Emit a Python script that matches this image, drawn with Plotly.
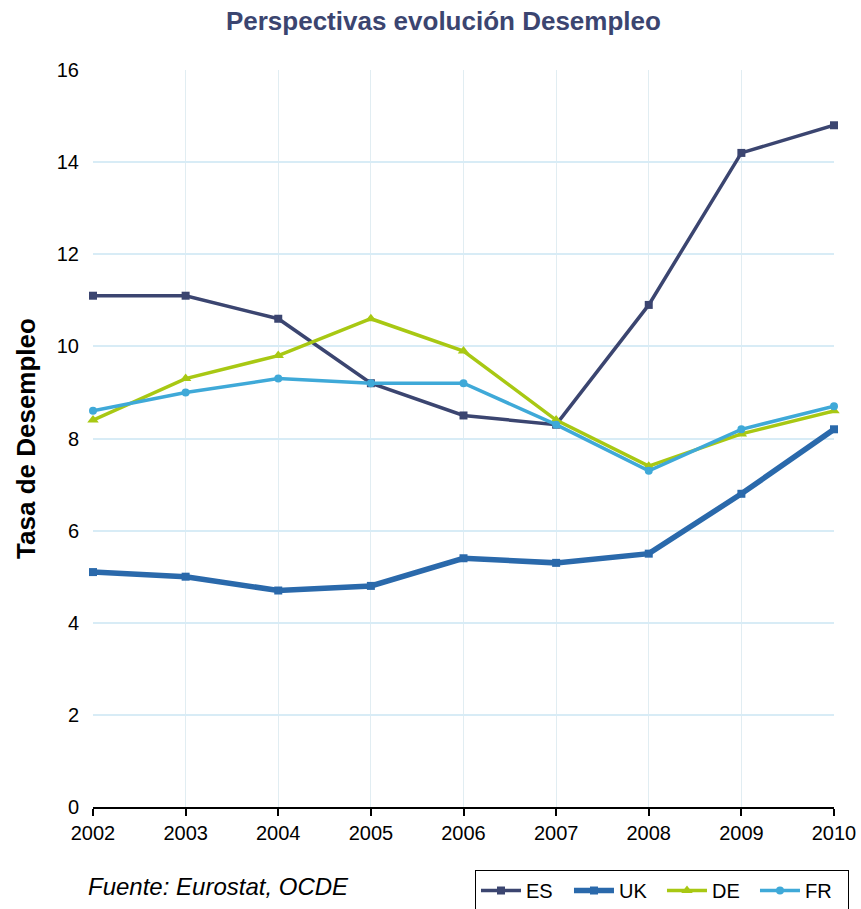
import plotly.graph_objects as go

years = [2002, 2003, 2004, 2005, 2006, 2007, 2008, 2009, 2010]
es = [11.1, 11.1, 10.6, 9.2, 8.5, 8.3, 10.9, 14.2, 14.8]
uk = [5.1, 5.0, 4.7, 4.8, 5.4, 5.3, 5.5, 6.8, 8.2]
de = [8.4, 9.3, 9.8, 10.6, 9.9, 8.4, 7.4, 8.1, 8.6]
fr = [8.6, 9.0, 9.3, 9.2, 9.2, 8.3, 7.3, 8.2, 8.7]
y_ticks = [0, 2, 4, 6, 8, 10, 12, 14, 16]

series = [
    ("ES", es, "#3b4570", 3.5, "square", 8),
    ("UK", uk, "#2a69ab", 5.5, "square", 8),
    ("DE", de, "#a8c813", 3.5, "triangle-up", 10),
    ("FR", fr, "#3fa9d8", 3.5, "circle", 8),
]

fig = go.Figure()
for name, vals, col, w, sym, ms in series:
    fig.add_trace(go.Scatter(
        x=years, y=vals, name=name, mode="lines+markers",
        line=dict(color=col, width=w),
        marker=dict(symbol=sym, size=ms, color=col),
        cliponaxis=False,
    ))

fig.update_layout(
    width=861, height=909,
    margin=dict(l=93, r=27, t=70, b=102, autoexpand=False),
    paper_bgcolor="white", plot_bgcolor="white",
    font=dict(family="Liberation Sans, Arial, sans-serif", size=20, color="black"),
    title=dict(text="<b>Perspectivas evolución Desempleo</b>", xref="container",
               x=0.515, xanchor="center", y=0.977, yanchor="middle",
               font=dict(size=26, color="#3b4570")),
    showlegend=True,
    legend=dict(orientation="h", x=0.5155, xanchor="left", y=-0.0855, yanchor="top",
                bordercolor="black", borderwidth=1, bgcolor="white",
                font=dict(size=20, color="black"), itemwidth=40,
                entrywidth=38, entrywidthmode="pixels",
                traceorder="normal"),
)
fig.update_xaxes(
    range=[2002, 2010], tickvals=years, ticktext=[str(y) for y in years],
    showgrid=True, gridcolor="#e1edf2", gridwidth=1,
    showline=True, linecolor="black", linewidth=2,
    ticks="outside", ticklen=7, tickwidth=2, tickcolor="black",
    zeroline=False, tickfont=dict(size=20),
)
fig.update_yaxes(
    range=[0, 16], tickvals=y_ticks,
    showgrid=True, gridcolor="#d8ecf6", gridwidth=2,
    showline=False, zeroline=False, ticks="", ticklabelstandoff=13,
    title=dict(text="<b>Tasa de Desempleo</b>", font=dict(size=26), standoff=13),
    tickfont=dict(size=20),
)
fig.add_annotation(text="<i>Fuente: Eurostat, OCDE</i>", xref="paper", yref="paper",
                   x=-0.01, y=-0.1085, xanchor="left", yanchor="middle",
                   showarrow=False, font=dict(size=24, color="black"))

fig.write_html("out.html", config={"displayModeBar": False})

# remove default page margin so the figure sits at the window's top-left corner
with open("out.html", "r", encoding="utf-8") as f:
    html = f.read()
html = html.replace("<head>", "<head><style>html,body{margin:0;padding:0;overflow:hidden;}</style>", 1)
with open("out.html", "w", encoding="utf-8") as f:
    f.write(html)
